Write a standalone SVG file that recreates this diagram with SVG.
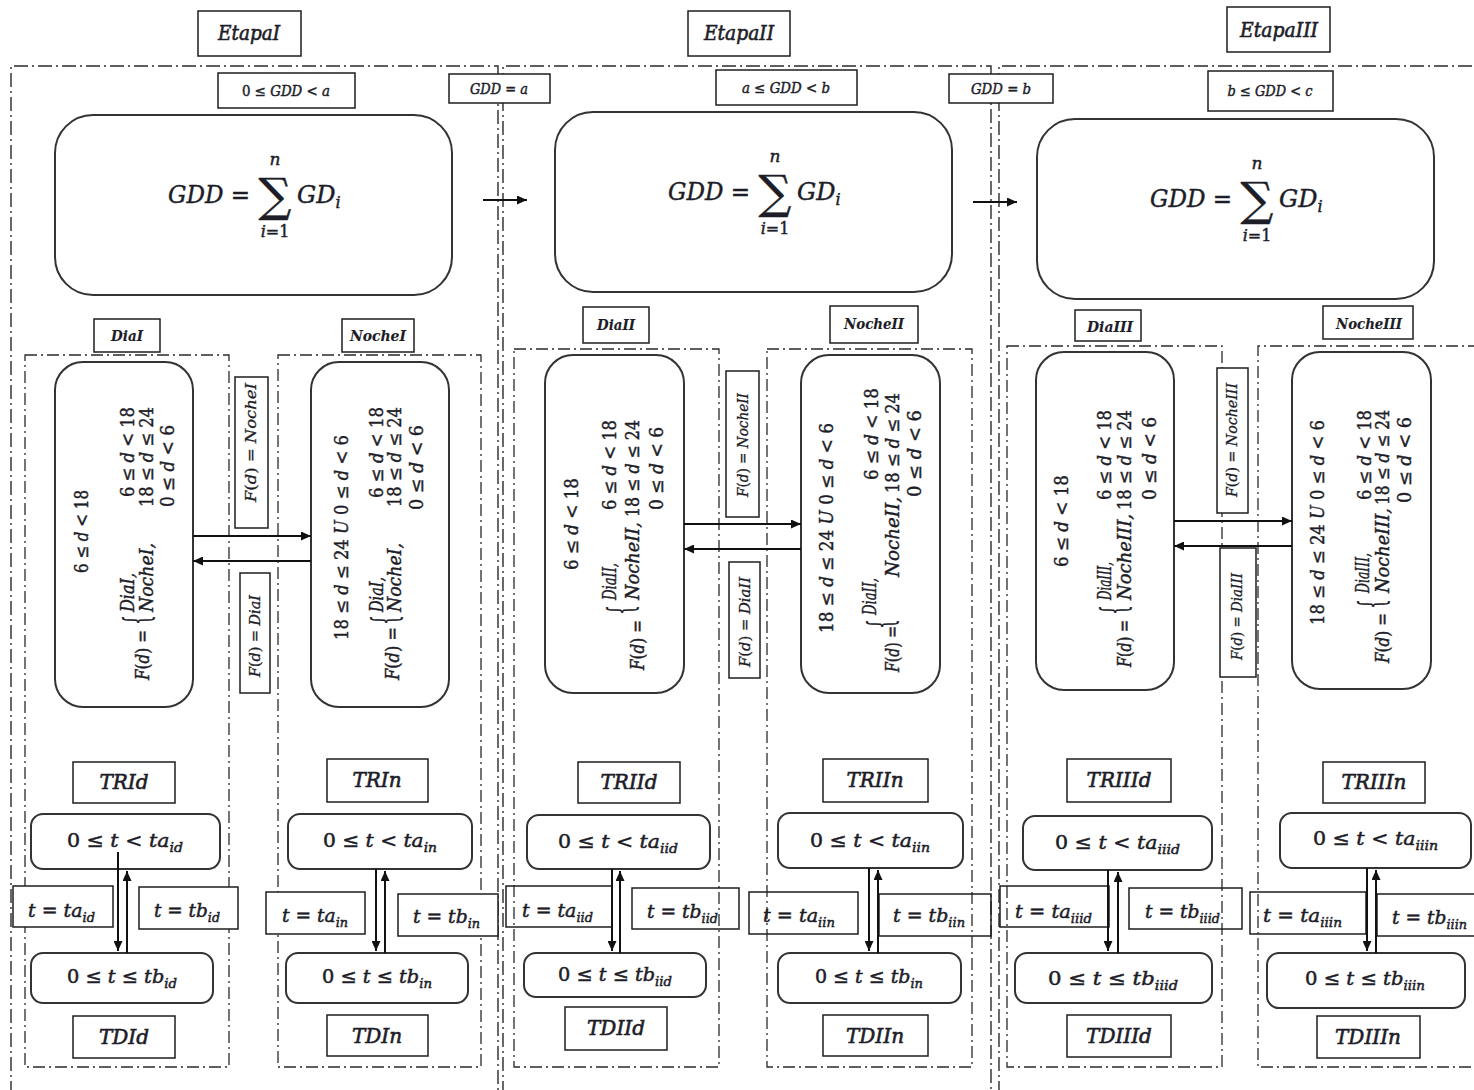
<svg xmlns="http://www.w3.org/2000/svg" width="1474" height="1090" viewBox="0 0 1474 1090">
<defs>
<style>
.frame{fill:none;stroke:#2a2a2a;stroke-width:1.4;stroke-dasharray:14 4 2 4}
.sub{fill:none;stroke:#2a2a2a;stroke-width:1.3;stroke-dasharray:12 4 2 4}
.box{fill:#fff;stroke:#1e1e1e;stroke-width:1.5}
.obox{fill:none;stroke:#1e1e1e;stroke-width:1.5}
.rbox{fill:#fff;stroke:#333;stroke-width:2}
.conn{stroke:#111;stroke-width:2;fill:none}
.arr{marker-end:url(#ah)}
text{font-family:"DejaVu Serif","Liberation Serif",serif;fill:#1d1d28;stroke:#1d1d28;stroke-width:0.45}
.i{font-style:italic}
.c{text-anchor:middle}
.lab{font-size:20px;font-style:italic;stroke-width:0.6}
.small{font-size:14px;font-style:italic;font-weight:bold;stroke-width:0.1}
.rng{font-size:14px;font-style:italic;stroke-width:0.45}
.r{font-size:18px}
.fl{font-size:14px;stroke-width:0.3}
.br{font-size:36px;stroke-width:0.2}
.t{font-size:19px;stroke-width:0.5}
.s{font-size:13px}
</style>
<marker id="ah" viewBox="0 0 10 9" refX="10" refY="4.5" markerWidth="10" markerHeight="9" markerUnits="userSpaceOnUse" orient="auto">
<path d="M0,0 L10,4.5 L0,9 z" fill="#111"/>
</marker>
</defs>
<rect width="1474" height="1090" fill="#fff"/>

<!-- stage frames -->
<g id="stage-frames">
<path class="frame" d="M11,1095 V66 H498 V1095"/>
<path class="frame" d="M503,1095 V66 H991 V1095"/>
<path class="frame" d="M999,1095 V66 H1480"/>
</g>

<!-- day / night sub-frames -->
<g id="sub-frames">
<rect class="sub" x="25" y="355" width="204" height="712"/>
<rect class="sub" x="278" y="355" width="203" height="712"/>
<rect class="sub" x="514" y="349" width="205" height="718"/>
<rect class="sub" x="767" y="349" width="205" height="718"/>
<rect class="sub" x="1007" y="346" width="215" height="721"/>
<path class="sub" d="M1480,346 H1258 V1067 H1480"/>
</g>

<!-- stage titles -->
<g id="etapa1"><rect class="box" x="198" y="11" width="103" height="45"/><text class="lab c" x="249" y="40" textLength="62" lengthAdjust="spacingAndGlyphs">EtapaI</text></g>
<g id="etapa2"><rect class="box" x="688" y="11" width="102" height="45"/><text class="lab c" x="739" y="40" textLength="70" lengthAdjust="spacingAndGlyphs">EtapaII</text></g>
<g id="etapa3"><rect class="box" x="1227" y="7" width="103" height="45"/><text class="lab c" x="1279" y="37" textLength="78" lengthAdjust="spacingAndGlyphs">EtapaIII</text></g>

<!-- GDD ranges and thresholds -->
<g id="range1"><rect class="box" x="218" y="73" width="137" height="35"/><text class="rng c" x="286" y="96" textLength="88" lengthAdjust="spacingAndGlyphs"><tspan font-style="normal">0 ≤ </tspan>GDD &lt; a</text></g>
<g id="threshold-a"><rect class="box" x="449" y="74" width="101" height="29"/><text class="rng c" x="499" y="94" textLength="58" lengthAdjust="spacingAndGlyphs">GDD = a</text></g>
<g id="range2"><rect class="box" x="716" y="70" width="141" height="35"/><text class="rng c" x="786" y="93" textLength="88" lengthAdjust="spacingAndGlyphs">a ≤ GDD &lt; b</text></g>
<g id="threshold-b"><rect class="box" x="949" y="74" width="104" height="29"/><text class="rng c" x="1001" y="94" textLength="60" lengthAdjust="spacingAndGlyphs">GDD = b</text></g>
<g id="range3"><rect class="box" x="1208" y="71" width="125" height="40"/><text class="rng c" x="1270" y="96" textLength="85" lengthAdjust="spacingAndGlyphs">b ≤ GDD &lt; c</text></g>

<!-- accumulated GDD per stage -->
<g id="gdd1" transform="translate(55,115)">
<rect class="rbox" width="397" height="180" rx="38"/>
<text x="113" y="88" font-size="24" textLength="82" lengthAdjust="spacingAndGlyphs"><tspan class="i">GDD</tspan> =</text>
<text class="c" x="220" y="96" font-size="46">∑</text>
<text class="i c" x="220" y="50" font-size="17">n</text>
<text class="c" x="220" y="122" font-size="16"><tspan class="i">i</tspan>=1</text>
<text class="i" x="242" y="88" font-size="24">GD<tspan font-size="16" dy="5">i</tspan></text>
</g>
<g id="gdd2" transform="translate(555,112)">
<rect class="rbox" width="397" height="180" rx="38"/>
<text x="113" y="88" font-size="24" textLength="82" lengthAdjust="spacingAndGlyphs"><tspan class="i">GDD</tspan> =</text>
<text class="c" x="220" y="96" font-size="46">∑</text>
<text class="i c" x="220" y="50" font-size="17">n</text>
<text class="c" x="220" y="122" font-size="16"><tspan class="i">i</tspan>=1</text>
<text class="i" x="242" y="88" font-size="24">GD<tspan font-size="16" dy="5">i</tspan></text>
</g>
<g id="gdd3" transform="translate(1037,119)">
<rect class="rbox" width="397" height="180" rx="38"/>
<text x="113" y="88" font-size="24" textLength="82" lengthAdjust="spacingAndGlyphs"><tspan class="i">GDD</tspan> =</text>
<text class="c" x="220" y="96" font-size="46">∑</text>
<text class="i c" x="220" y="50" font-size="17">n</text>
<text class="c" x="220" y="122" font-size="16"><tspan class="i">i</tspan>=1</text>
<text class="i" x="242" y="88" font-size="24">GD<tspan font-size="16" dy="5">i</tspan></text>
</g>

<!-- day / night headers -->
<g id="dia1-label"><rect class="box" x="94" y="319" width="66" height="33"/><text class="small c" x="127" y="341" textLength="32" lengthAdjust="spacingAndGlyphs">DiaI</text></g>
<g id="noche1-label"><rect class="box" x="342" y="319" width="72" height="33"/><text class="small c" x="378" y="341" textLength="56" lengthAdjust="spacingAndGlyphs">NocheI</text></g>
<g id="dia2-label"><rect class="box" x="583" y="307" width="66" height="36"/><text class="small c" x="616" y="330" textLength="38" lengthAdjust="spacingAndGlyphs">DiaII</text></g>
<g id="noche2-label"><rect class="box" x="830" y="306" width="88" height="37"/><text class="small c" x="874" y="329" textLength="60" lengthAdjust="spacingAndGlyphs">NocheII</text></g>
<g id="dia3-label"><rect class="box" x="1075" y="310" width="66" height="31"/><text class="small c" x="1110" y="332" textLength="46" lengthAdjust="spacingAndGlyphs">DiaIII</text></g>
<g id="noche3-label"><rect class="box" x="1323" y="306" width="90" height="33"/><text class="small c" x="1369" y="329" textLength="66" lengthAdjust="spacingAndGlyphs">NocheIII</text></g>

<!-- day / night state functions (rotated) -->
<g id="dia1">
<rect class="rbox" x="55" y="362" width="138" height="345" rx="28"/>
<text class="r" transform="translate(88,573) rotate(-90)" textLength="83" lengthAdjust="spacingAndGlyphs">6 ≤ <tspan class="i">d</tspan> &lt; 18</text>
<text class="r" transform="translate(134,497) rotate(-90)" textLength="90" lengthAdjust="spacingAndGlyphs">6 ≤ <tspan class="i">d</tspan> &lt; 18</text>
<text class="r" transform="translate(153,507) rotate(-90)" textLength="100" lengthAdjust="spacingAndGlyphs">18 ≤ <tspan class="i">d</tspan> ≤ 24</text>
<text class="r" transform="translate(174,507) rotate(-90)" textLength="82" lengthAdjust="spacingAndGlyphs">0 ≤ <tspan class="i">d</tspan> &lt; 6</text>
<text class="r i" transform="translate(134,612) rotate(-90)" textLength="39" lengthAdjust="spacingAndGlyphs">DiaI,</text>
<text class="r i" transform="translate(153,612) rotate(-90)" textLength="69" lengthAdjust="spacingAndGlyphs">NocheI,</text>
<text class="r" transform="translate(149,680) rotate(-90)" textLength="50" lengthAdjust="spacingAndGlyphs"><tspan class="i">F</tspan>(<tspan class="i">d</tspan>) =</text>
<text class="br" transform="translate(149,625) rotate(-90)" textLength="10" lengthAdjust="spacingAndGlyphs">{</text>
</g>
<g id="noche1">
<rect class="rbox" x="311" y="362" width="138" height="345" rx="28"/>
<text class="r" transform="translate(348,640) rotate(-90)" textLength="205" lengthAdjust="spacingAndGlyphs">18 ≤ <tspan class="i">d</tspan> ≤ 24 <tspan class="i">U</tspan> 0 ≤ <tspan class="i">d</tspan> &lt; 6</text>
<text class="r" transform="translate(383,498) rotate(-90)" textLength="91" lengthAdjust="spacingAndGlyphs">6 ≤ <tspan class="i">d</tspan> &lt; 18</text>
<text class="r" transform="translate(401,507) rotate(-90)" textLength="100" lengthAdjust="spacingAndGlyphs">18 ≤ <tspan class="i">d</tspan> ≤ 24</text>
<text class="r" transform="translate(423,510) rotate(-90)" textLength="85" lengthAdjust="spacingAndGlyphs">0 ≤ <tspan class="i">d</tspan> &lt; 6</text>
<text class="r i" transform="translate(383,612) rotate(-90)" textLength="35" lengthAdjust="spacingAndGlyphs">DiaI,</text>
<text class="r i" transform="translate(401,612) rotate(-90)" textLength="69" lengthAdjust="spacingAndGlyphs">NocheI,</text>
<text class="r" transform="translate(399,680) rotate(-90)" textLength="53" lengthAdjust="spacingAndGlyphs"><tspan class="i">F</tspan>(<tspan class="i">d</tspan>) =</text>
<text class="br" transform="translate(397,625) rotate(-90)" textLength="10" lengthAdjust="spacingAndGlyphs">{</text>
</g>
<g id="dia2">
<rect class="rbox" x="545" y="355" width="139" height="338" rx="28"/>
<text class="r" transform="translate(578,570) rotate(-90)" textLength="92" lengthAdjust="spacingAndGlyphs">6 ≤ <tspan class="i">d</tspan> &lt; 18</text>
<text class="r" transform="translate(616,510) rotate(-90)" textLength="90" lengthAdjust="spacingAndGlyphs">6 ≤ <tspan class="i">d</tspan> &lt; 18</text>
<text class="r" transform="translate(639,517) rotate(-90)" textLength="97" lengthAdjust="spacingAndGlyphs">18 ≤ <tspan class="i">d</tspan> ≤ 24</text>
<text class="r" transform="translate(663,510) rotate(-90)" textLength="83" lengthAdjust="spacingAndGlyphs">0 ≤ <tspan class="i">d</tspan> &lt; 6</text>
<text class="r i" transform="translate(616,600) rotate(-90)" textLength="37" lengthAdjust="spacingAndGlyphs">DiaII,</text>
<text class="r i" transform="translate(639,600) rotate(-90)" textLength="78" lengthAdjust="spacingAndGlyphs">NocheII,</text>
<text class="r" transform="translate(644,670) rotate(-90)" textLength="50" lengthAdjust="spacingAndGlyphs"><tspan class="i">F</tspan>(<tspan class="i">d</tspan>) =</text>
<text class="br" transform="translate(633,615) rotate(-90)" textLength="10" lengthAdjust="spacingAndGlyphs">{</text>
</g>
<g id="noche2">
<rect class="rbox" x="801" y="355" width="139" height="338" rx="28"/>
<text class="r" transform="translate(833,633) rotate(-90)" textLength="210" lengthAdjust="spacingAndGlyphs">18 ≤ <tspan class="i">d</tspan> ≤ 24 <tspan class="i">U</tspan> 0 ≤ <tspan class="i">d</tspan> &lt; 6</text>
<text class="r" transform="translate(878,480) rotate(-90)" textLength="92" lengthAdjust="spacingAndGlyphs">6 ≤ <tspan class="i">d</tspan> &lt; 18</text>
<text class="r" transform="translate(899,493) rotate(-90)" textLength="100" lengthAdjust="spacingAndGlyphs">18 ≤ <tspan class="i">d</tspan> ≤ 24</text>
<text class="r" transform="translate(921,497) rotate(-90)" textLength="87" lengthAdjust="spacingAndGlyphs">0 ≤ <tspan class="i">d</tspan> &lt; 6</text>
<text class="r i" transform="translate(876,615) rotate(-90)" textLength="37" lengthAdjust="spacingAndGlyphs">DiaII,</text>
<text class="r i" transform="translate(899,577) rotate(-90)" textLength="80" lengthAdjust="spacingAndGlyphs">NocheII,</text>
<text class="r" transform="translate(899,672) rotate(-90)" textLength="46" lengthAdjust="spacingAndGlyphs"><tspan class="i">F</tspan>(<tspan class="i">d</tspan>) =</text>
<text class="br" transform="translate(893,629) rotate(-90)" textLength="10" lengthAdjust="spacingAndGlyphs">{</text>
</g>
<g id="dia3">
<rect class="rbox" x="1036" y="352" width="138" height="338" rx="28"/>
<text class="r" transform="translate(1068,567) rotate(-90)" textLength="92" lengthAdjust="spacingAndGlyphs">6 ≤ <tspan class="i">d</tspan> &lt; 18</text>
<text class="r" transform="translate(1111,500) rotate(-90)" textLength="90" lengthAdjust="spacingAndGlyphs">6 ≤ <tspan class="i">d</tspan> &lt; 18</text>
<text class="r" transform="translate(1131,510) rotate(-90)" textLength="100" lengthAdjust="spacingAndGlyphs">18 ≤ <tspan class="i">d</tspan> ≤ 24</text>
<text class="r" transform="translate(1156,500) rotate(-90)" textLength="83" lengthAdjust="spacingAndGlyphs">0 ≤ <tspan class="i">d</tspan> &lt; 6</text>
<text class="r i" transform="translate(1111,600) rotate(-90)" textLength="38" lengthAdjust="spacingAndGlyphs">DiaIII,</text>
<text class="r i" transform="translate(1131,600) rotate(-90)" textLength="86" lengthAdjust="spacingAndGlyphs">NocheIII,</text>
<text class="r" transform="translate(1131,667) rotate(-90)" textLength="47" lengthAdjust="spacingAndGlyphs"><tspan class="i">F</tspan>(<tspan class="i">d</tspan>) =</text>
<text class="br" transform="translate(1126,615) rotate(-90)" textLength="10" lengthAdjust="spacingAndGlyphs">{</text>
</g>
<g id="noche3">
<rect class="rbox" x="1292" y="352" width="139" height="337" rx="28"/>
<text class="r" transform="translate(1324,625) rotate(-90)" textLength="205" lengthAdjust="spacingAndGlyphs">18 ≤ <tspan class="i">d</tspan> ≤ 24 <tspan class="i">U</tspan> 0 ≤ <tspan class="i">d</tspan> &lt; 6</text>
<text class="r" transform="translate(1371,500) rotate(-90)" textLength="90" lengthAdjust="spacingAndGlyphs">6 ≤ <tspan class="i">d</tspan> &lt; 18</text>
<text class="r" transform="translate(1389,505) rotate(-90)" textLength="95" lengthAdjust="spacingAndGlyphs">18 ≤ <tspan class="i">d</tspan> ≤ 24</text>
<text class="r" transform="translate(1411,503) rotate(-90)" textLength="86" lengthAdjust="spacingAndGlyphs">0 ≤ <tspan class="i">d</tspan> &lt; 6</text>
<text class="r i" transform="translate(1369,593) rotate(-90)" textLength="40" lengthAdjust="spacingAndGlyphs">DiaIII,</text>
<text class="r i" transform="translate(1389,593) rotate(-90)" textLength="85" lengthAdjust="spacingAndGlyphs">NocheIII,</text>
<text class="r" transform="translate(1389,663) rotate(-90)" textLength="50" lengthAdjust="spacingAndGlyphs"><tspan class="i">F</tspan>(<tspan class="i">d</tspan>) =</text>
<text class="br" transform="translate(1384,609) rotate(-90)" textLength="10" lengthAdjust="spacingAndGlyphs">{</text>
</g>

<!-- transition conditions between day and night -->
<g id="to-noche1"><rect class="box" x="235" y="377" width="33" height="151"/><text class="fl" transform="translate(256,502) rotate(-90)" textLength="119" lengthAdjust="spacingAndGlyphs"><tspan class="i">F</tspan>(<tspan class="i">d</tspan>) = <tspan class="i">NocheI</tspan></text></g>
<g id="to-dia1"><rect class="box" x="240" y="573" width="30" height="120"/><text class="fl" transform="translate(260,677) rotate(-90)" textLength="82" lengthAdjust="spacingAndGlyphs"><tspan class="i">F</tspan>(<tspan class="i">d</tspan>) = <tspan class="i">DiaI</tspan></text></g>
<g id="to-noche2"><rect class="box" x="726" y="371" width="33" height="146"/><text class="fl" transform="translate(748,497) rotate(-90)" textLength="104" lengthAdjust="spacingAndGlyphs"><tspan class="i">F</tspan>(<tspan class="i">d</tspan>) = <tspan class="i">NocheII</tspan></text></g>
<g id="to-dia2"><rect class="box" x="729" y="562" width="31" height="116"/><text class="fl" transform="translate(750,667) rotate(-90)" textLength="90" lengthAdjust="spacingAndGlyphs"><tspan class="i">F</tspan>(<tspan class="i">d</tspan>) = <tspan class="i">DiaII</tspan></text></g>
<g id="to-noche3"><rect class="box" x="1217" y="368" width="31" height="145"/><text class="fl" transform="translate(1237,497) rotate(-90)" textLength="114" lengthAdjust="spacingAndGlyphs"><tspan class="i">F</tspan>(<tspan class="i">d</tspan>) = <tspan class="i">NocheIII</tspan></text></g>
<g id="to-dia3"><rect class="box" x="1220" y="548" width="36" height="129"/><text class="fl" transform="translate(1242,660) rotate(-90)" textLength="87" lengthAdjust="spacingAndGlyphs"><tspan class="i">F</tspan>(<tspan class="i">d</tspan>) = <tspan class="i">DiaIII</tspan></text></g>

<!-- stage I timers -->
<g id="tri-d1"><rect class="box" x="73" y="762" width="102" height="41"/><text class="lab c" x="124" y="789">TRId</text></g>
<g id="ta-d1"><rect class="rbox" x="31" y="814" width="189" height="55" rx="12"/><text class="t" x="67" y="847" textLength="116" lengthAdjust="spacingAndGlyphs">0 ≤  <tspan class="i">t</tspan> &lt; <tspan class="i">ta</tspan><tspan class="s i" dy="5">id</tspan></text></g>
<g id="cond-ta-d1"><rect class="box" x="13" y="886" width="100" height="41"/><text class="t" x="28" y="917" textLength="67" lengthAdjust="spacingAndGlyphs"><tspan class="i">t</tspan> = <tspan class="i">ta</tspan><tspan class="s i" dy="5">id</tspan></text></g>
<g id="cond-tb-d1"><rect class="box" x="139" y="887" width="99" height="42"/><text class="t" x="154" y="917" textLength="66" lengthAdjust="spacingAndGlyphs"><tspan class="i">t</tspan> = <tspan class="i">tb</tspan><tspan class="s i" dy="5">id</tspan></text></g>
<g id="tb-d1"><rect class="rbox" x="31" y="953" width="182" height="50" rx="12"/><text class="t" x="67" y="983" textLength="110" lengthAdjust="spacingAndGlyphs">0 ≤ <tspan class="i">t</tspan> ≤ <tspan class="i">tb</tspan><tspan class="s i" dy="5">id</tspan></text></g>
<g id="tdi-d1"><rect class="box" x="73" y="1016" width="102" height="42"/><text class="lab c" x="124" y="1044">TDId</text></g>

<g id="tri-n1"><rect class="box" x="327" y="759" width="101" height="43"/><text class="lab c" x="377" y="787">TRIn</text></g>
<g id="ta-n1"><rect class="rbox" x="288" y="814" width="184" height="55" rx="12"/><text class="t" x="323" y="847" textLength="114" lengthAdjust="spacingAndGlyphs">0 ≤  <tspan class="i">t</tspan> &lt; <tspan class="i">ta</tspan><tspan class="s i" dy="5">in</tspan></text></g>
<g id="cond-ta-n1"><rect class="box" x="266" y="892" width="99" height="42"/><text class="t" x="282" y="922" textLength="66" lengthAdjust="spacingAndGlyphs"><tspan class="i">t</tspan> = <tspan class="i">ta</tspan><tspan class="s i" dy="5">in</tspan></text></g>
<g id="cond-tb-n1"><rect class="box" x="398" y="894" width="100" height="42"/><text class="t" x="413" y="923" textLength="67" lengthAdjust="spacingAndGlyphs"><tspan class="i">t</tspan> = <tspan class="i">tb</tspan><tspan class="s i" dy="5">in</tspan></text></g>
<g id="tb-n1"><rect class="rbox" x="286" y="953" width="182" height="50" rx="12"/><text class="t" x="322" y="983" textLength="110" lengthAdjust="spacingAndGlyphs">0 ≤ <tspan class="i">t</tspan> ≤ <tspan class="i">tb</tspan><tspan class="s i" dy="5">in</tspan></text></g>
<g id="tdi-n1"><rect class="box" x="327" y="1015" width="101" height="41"/><text class="lab c" x="377" y="1043">TDIn</text></g>

<!-- stage II timers -->
<g id="tri-d2"><rect class="box" x="578" y="762" width="102" height="41"/><text class="lab c" x="629" y="789">TRIId</text></g>
<g id="ta-d2"><rect class="rbox" x="527" y="815" width="183" height="54" rx="12"/><text class="t" x="558" y="848" textLength="120" lengthAdjust="spacingAndGlyphs">0 ≤  <tspan class="i">t</tspan> &lt; <tspan class="i">ta</tspan><tspan class="s i" dy="5">iid</tspan></text></g>
<g id="cond-ta-d2"><rect class="obox" x="506" y="886" width="106" height="41"/><text class="t" x="522" y="917" textLength="71" lengthAdjust="spacingAndGlyphs"><tspan class="i">t</tspan> = <tspan class="i">ta</tspan><tspan class="s i" dy="5">iid</tspan></text></g>
<g id="cond-tb-d2"><rect class="obox" x="632" y="888" width="107" height="41"/><text class="t" x="647" y="918" textLength="71" lengthAdjust="spacingAndGlyphs"><tspan class="i">t</tspan> = <tspan class="i">tb</tspan><tspan class="s i" dy="5">iid</tspan></text></g>
<g id="tb-d2"><rect class="rbox" x="524" y="953" width="182" height="44" rx="12"/><text class="t" x="558" y="981" textLength="114" lengthAdjust="spacingAndGlyphs">0 ≤ <tspan class="i">t</tspan> ≤ <tspan class="i">tb</tspan><tspan class="s i" dy="5">iid</tspan></text></g>
<g id="tdi-d2"><rect class="box" x="565" y="1007" width="102" height="43"/><text class="lab c" x="616" y="1035">TDIId</text></g>

<g id="tri-n2"><rect class="box" x="823" y="759" width="105" height="43"/><text class="lab c" x="875" y="787">TRIIn</text></g>
<g id="ta-n2"><rect class="rbox" x="778" y="813" width="185" height="55" rx="12"/><text class="t" x="810" y="847" textLength="120" lengthAdjust="spacingAndGlyphs">0 ≤  <tspan class="i">t</tspan> &lt; <tspan class="i">ta</tspan><tspan class="s i" dy="5">iin</tspan></text></g>
<g id="cond-ta-n2"><rect class="obox" x="749" y="892" width="109" height="42"/><text class="t" x="763" y="922" textLength="72" lengthAdjust="spacingAndGlyphs"><tspan class="i">t</tspan> = <tspan class="i">ta</tspan><tspan class="s i" dy="5">iin</tspan></text></g>
<g id="cond-tb-n2"><rect class="obox" x="879" y="894" width="112" height="42"/><text class="t" x="893" y="922" textLength="72" lengthAdjust="spacingAndGlyphs"><tspan class="i">t</tspan> = <tspan class="i">tb</tspan><tspan class="s i" dy="5">iin</tspan></text></g>
<g id="tb-n2"><rect class="rbox" x="778" y="953" width="183" height="50" rx="12"/><text class="t" x="815" y="983" textLength="108" lengthAdjust="spacingAndGlyphs">0 ≤ <tspan class="i">t</tspan> ≤ <tspan class="i">tb</tspan><tspan class="s i" dy="5">in</tspan></text></g>
<g id="tdi-n2"><rect class="box" x="823" y="1015" width="105" height="41"/><text class="lab c" x="875" y="1043">TDIIn</text></g>

<!-- stage III timers -->
<g id="tri-d3"><rect class="box" x="1067" y="759" width="104" height="43"/><text class="lab c" x="1119" y="787">TRIIId</text></g>
<g id="ta-d3"><rect class="rbox" x="1023" y="816" width="189" height="54" rx="12"/><text class="t" x="1055" y="849" textLength="125" lengthAdjust="spacingAndGlyphs">0 ≤  <tspan class="i">t</tspan> &lt; <tspan class="i">ta</tspan><tspan class="s i" dy="5">iiid</tspan></text></g>
<g id="cond-ta-d3"><rect class="obox" x="1000" y="886" width="109" height="41"/><text class="t" x="1015" y="918" textLength="77" lengthAdjust="spacingAndGlyphs"><tspan class="i">t</tspan> = <tspan class="i">ta</tspan><tspan class="s i" dy="5">iiid</tspan></text></g>
<g id="cond-tb-d3"><rect class="obox" x="1129" y="888" width="113" height="41"/><text class="t" x="1145" y="918" textLength="75" lengthAdjust="spacingAndGlyphs"><tspan class="i">t</tspan> = <tspan class="i">tb</tspan><tspan class="s i" dy="5">iiid</tspan></text></g>
<g id="tb-d3"><rect class="rbox" x="1015" y="953" width="197" height="50" rx="12"/><text class="t" x="1048" y="985" textLength="130" lengthAdjust="spacingAndGlyphs">0 ≤ <tspan class="i">t</tspan> ≤ <tspan class="i">tb</tspan><tspan class="s i" dy="5">iiid</tspan></text></g>
<g id="tdi-d3"><rect class="box" x="1067" y="1015" width="104" height="42"/><text class="lab c" x="1119" y="1043">TDIIId</text></g>

<g id="tri-n3"><rect class="box" x="1323" y="762" width="102" height="41"/><text class="lab c" x="1374" y="789">TRIIIn</text></g>
<g id="ta-n3"><rect class="rbox" x="1280" y="813" width="191" height="55" rx="12"/><text class="t" x="1313" y="845" textLength="125" lengthAdjust="spacingAndGlyphs">0 ≤  <tspan class="i">t</tspan> &lt; <tspan class="i">ta</tspan><tspan class="s i" dy="5">iiin</tspan></text></g>
<g id="cond-ta-n3"><rect class="obox" x="1250" y="892" width="116" height="42"/><text class="t" x="1263" y="922" textLength="79" lengthAdjust="spacingAndGlyphs"><tspan class="i">t</tspan> = <tspan class="i">ta</tspan><tspan class="s i" dy="5">iiin</tspan></text></g>
<g id="cond-tb-n3"><rect class="obox" x="1377" y="894" width="110" height="42"/><text class="t" x="1392" y="924" textLength="75" lengthAdjust="spacingAndGlyphs"><tspan class="i">t</tspan> = <tspan class="i">tb</tspan><tspan class="s i" dy="5">iiin</tspan></text></g>
<g id="tb-n3"><rect class="rbox" x="1267" y="953" width="198" height="55" rx="12"/><text class="t" x="1305" y="985" textLength="120" lengthAdjust="spacingAndGlyphs">0 ≤ <tspan class="i">t</tspan> ≤ <tspan class="i">tb</tspan><tspan class="s i" dy="5">iiin</tspan></text></g>
<g id="tdi-n3"><rect class="box" x="1317" y="1016" width="103" height="42"/><text class="lab c" x="1368" y="1044">TDIIIn</text></g>

<!-- connectors -->
<g id="connectors">
<path class="conn arr" d="M483,200 H527"/>
<path class="conn arr" d="M973,202 H1017"/>
<path class="conn arr" d="M193,536 H311"/>
<path class="conn arr" d="M311,561 H193"/>
<path class="conn arr" d="M684,524 H801"/>
<path class="conn arr" d="M801,549 H684"/>
<path class="conn arr" d="M1174,521 H1292"/>
<path class="conn arr" d="M1292,546 H1174"/>
<path class="conn arr" d="M118,852 V951"/>
<path class="conn arr" d="M127,953 V871"/>
<path class="conn arr" d="M376,869 V951"/>
<path class="conn arr" d="M385,953 V871"/>
<path class="conn arr" d="M612,869 V951"/>
<path class="conn arr" d="M620,953 V871"/>
<path class="conn arr" d="M869,868 V951"/>
<path class="conn arr" d="M878,953 V870"/>
<path class="conn arr" d="M1108,870 V951"/>
<path class="conn arr" d="M1118,953 V872"/>
<path class="conn arr" d="M1367,868 V951"/>
<path class="conn arr" d="M1376,953 V870"/>
</g>
</svg>
